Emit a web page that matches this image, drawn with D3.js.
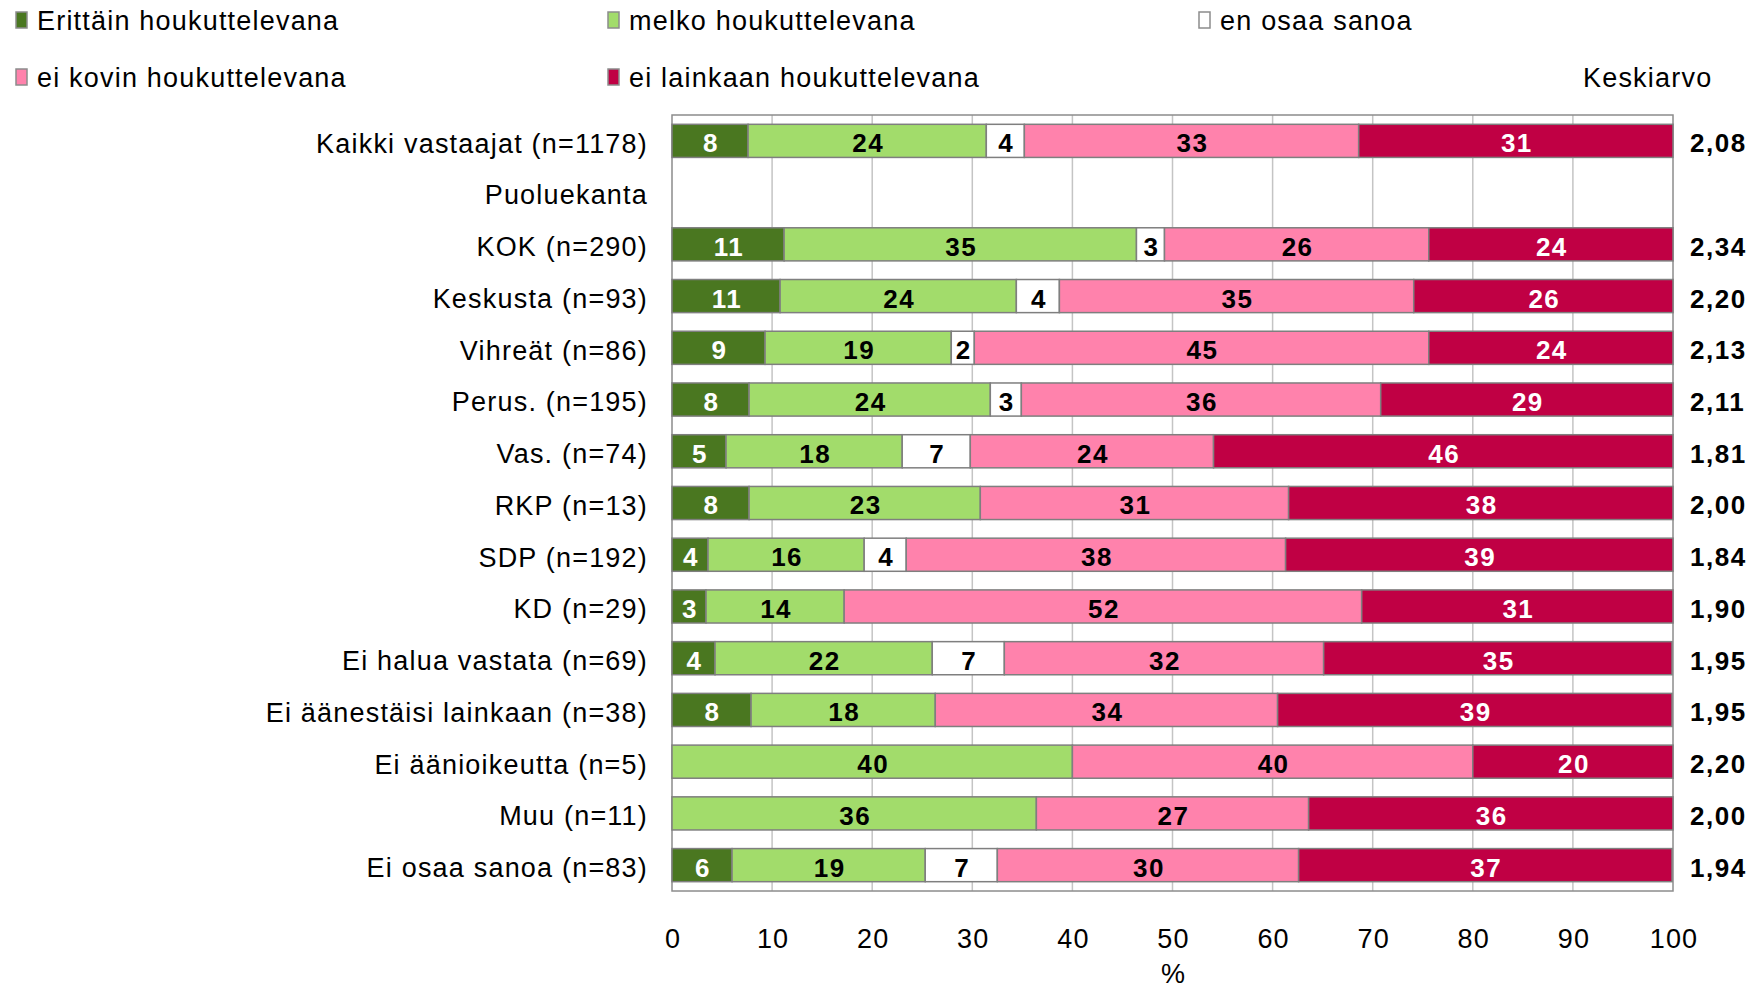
<!DOCTYPE html>
<html>
<head>
<meta charset="utf-8">
<script src="https://cdn.jsdelivr.net/npm/d3@7"></script>
<style>
  body { margin: 0; background: #fff; }
  text { font-family: "Liberation Sans", Arial, sans-serif; }
  .reg { font-size: 27px; letter-spacing: 1.2px; }
  .bold { font-size: 26px; font-weight: bold; letter-spacing: 1.5px; }
</style>
</head>
<body>
<div id="chart"></div>
<script>
// rivit ylhäältä alas, "Puoluekanta" on väliotsikko ilman palkkia
let categories = ['Kaikki vastaajat (n=1178)', 'Puoluekanta', 'KOK (n=290)', 'Keskusta (n=93)',
  'Vihreät (n=86)', 'Perus. (n=195)', 'Vas. (n=74)', 'RKP (n=13)', 'SDP (n=192)', 'KD (n=29)',
  'Ei halua vastata (n=69)', 'Ei äänestäisi lainkaan (n=38)', 'Ei äänioikeutta (n=5)',
  'Muu (n=11)', 'Ei osaa sanoa (n=83)'];
let seriesNames = ['Erittäin houkuttelevana', 'melko houkuttelevana', 'en osaa sanoa',
  'ei kovin houkuttelevana', 'ei lainkaan houkuttelevana'];
let erittain = [7.6, null, 11.2, 10.8, 9.3, 7.7, 5.4, 7.7, 3.6, 3.4, 4.3, 7.9, 0, 0, 6.0];
let melko    = [23.8, null, 35.2, 23.6, 18.6, 24.1, 17.6, 23.1, 15.6, 13.8, 21.7, 18.4, 40, 36.4, 19.3];
let eos      = [3.8, null, 2.8, 4.3, 2.3, 3.1, 6.8, 0, 4.2, 0, 7.2, 0, 0, 0, 7.2];
let eiKovin  = [33.4, null, 26.4, 35.4, 45.4, 35.9, 24.3, 30.8, 37.9, 51.7, 31.9, 34.2, 40, 27.2, 30.1];
let eiLainkaan = [31.4, null, 24.4, 25.9, 24.4, 29.2, 45.9, 38.4, 38.7, 31.1, 34.8, 39.4, 20, 36.4, 37.3];
let keskiarvo = ['2,08', '', '2,34', '2,20', '2,13', '2,11', '1,81', '2,00', '1,84', '1,90',
  '1,95', '1,95', '2,20', '2,00', '1,94'];
let xTicks = [0, 10, 20, 30, 40, 50, 60, 70, 80, 90, 100];

let colors = ['#4a7720', '#a2dc6b', '#ffffff', '#ff82ac', '#c00044'];
let textColors = ['#fff', '#000', '#000', '#000', '#fff'];

let width = 1764, height = 988;
let plotLeft = 672, plotRight = 1673, plotTop = 115, plotBottom = 891;
let rowDy = '0.44em';

let svg = d3.select('#chart').append('svg')
  .attr('width', width)
  .attr('height', height);

let x = d3.scaleLinear().domain([0, 100]).range([plotLeft, plotRight]);
let y = d3.scaleBand().domain(categories).range([plotTop, plotBottom])
  .paddingInner(0.36).paddingOuter(0.18);

// ruudukko
svg.append('g')
  .selectAll('line')
  .data(xTicks.slice(1, -1))
  .enter().append('line')
  .attr('x1', d => x(d)).attr('x2', d => x(d))
  .attr('y1', plotTop).attr('y2', plotBottom)
  .attr('stroke', '#c4c4c4').attr('stroke-width', 1.5);

svg.append('rect')
  .attr('x', plotLeft).attr('y', plotTop)
  .attr('width', plotRight - plotLeft).attr('height', plotBottom - plotTop)
  .attr('fill', 'none').attr('stroke', '#8c8c8c').attr('stroke-width', 1.5);

let series = [erittain, melko, eos, eiKovin, eiLainkaan];
let rows = categories.map((c, i) => {
  let acc = 0;
  return series.map((s, k) => {
    let v = s[i];
    let seg = {cat: c, k: k, v: v, x0: acc, x1: acc + (v || 0)};
    acc += v || 0;
    return seg;
  });
});
let segs = rows.flat().filter(d => d.v);

let bars = svg.append('g');
bars.selectAll('rect')
  .data(segs)
  .enter().append('rect')
  .attr('x', d => x(d.x0))
  .attr('y', d => y(d.cat))
  .attr('width', d => x(d.x1) - x(d.x0))
  .attr('height', y.bandwidth())
  .attr('fill', d => colors[d.k])
  .attr('stroke', '#7f7f7f')
  .attr('stroke-width', 1.5);

bars.selectAll('text')
  .data(segs)
  .enter().append('text')
  .attr('class', 'bold')
  .attr('x', d => (x(d.x0) + x(d.x1)) / 2 + 1)
  .attr('y', d => y(d.cat) + y.bandwidth() / 2)
  .attr('dy', rowDy)
  .attr('text-anchor', 'middle')
  .attr('fill', d => textColors[d.k])
  .text(d => Math.round(d.v));

// kategoriat vasemmalle
svg.append('g')
  .selectAll('text')
  .data(categories)
  .enter().append('text')
  .attr('class', 'reg')
  .attr('x', 648)
  .attr('y', d => y(d) + y.bandwidth() / 2)
  .attr('dy', rowDy)
  .attr('text-anchor', 'end')
  .attr('fill', '#000')
  .text(d => d);

// keskiarvot oikealle
svg.append('g')
  .selectAll('text')
  .data(keskiarvo)
  .enter().append('text')
  .attr('class', 'bold')
  .attr('x', 1690)
  .attr('y', (d, i) => y(categories[i]) + y.bandwidth() / 2)
  .attr('dy', rowDy)
  .text(d => d);

svg.append('text')
  .attr('class', 'reg')
  .attr('x', 1583).attr('y', 77).attr('dy', '0.36em')
  .text('Keskiarvo');

// x-akseli
svg.append('g')
  .selectAll('text')
  .data(xTicks)
  .enter().append('text')
  .attr('class', 'reg')
  .attr('x', d => x(d) + 1)
  .attr('y', 938).attr('dy', '0.36em')
  .attr('text-anchor', 'middle')
  .text(d => d);

svg.append('text')
  .attr('class', 'reg')
  .attr('x', x(50) + 1).attr('y', 974).attr('dy', '0.33em')
  .attr('text-anchor', 'middle')
  .text('%');

// selite
let legendPos = [[16, 20], [608, 20], [1199, 20], [16, 77], [608, 77]];
let legend = svg.append('g')
  .selectAll('g')
  .data(seriesNames)
  .enter().append('g')
  .attr('transform', (d, i) => 'translate(' + legendPos[i][0] + ',' + legendPos[i][1] + ')');

legend.append('rect')
  .attr('x', 0).attr('y', -8)
  .attr('width', 11).attr('height', 16)
  .attr('fill', (d, i) => colors[i])
  .attr('stroke', '#8c8c8c').attr('stroke-width', 1.5);

legend.append('text')
  .attr('class', 'reg')
  .attr('x', 21).attr('dy', '0.36em')
  .text(d => d);
</script>
</body>
</html>
